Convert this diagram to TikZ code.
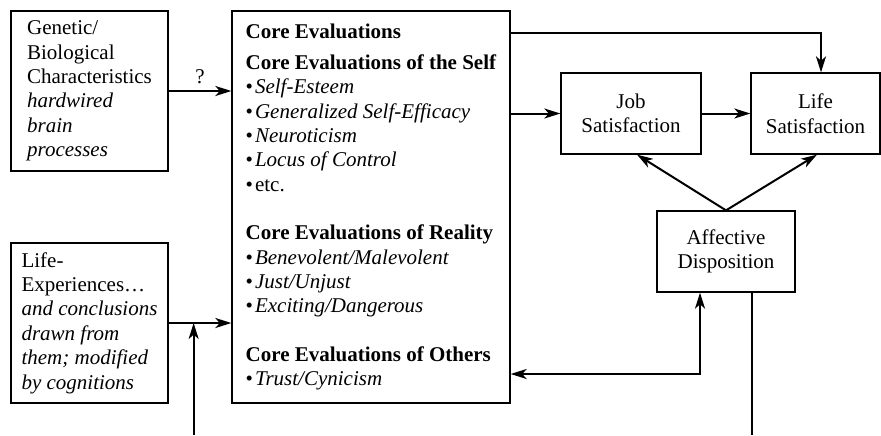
\documentclass[tikz,border=0pt]{standalone}
\usepackage{fontspec}
\setmainfont{Liberation Serif}
\usetikzlibrary{arrows.meta,positioning}

\tikzset{
  evalbox/.style={draw, line width=0.65pt, inner sep=0pt, align=left,
    font=\fontsize{10.5pt}{12.2pt}\selectfont},
  flow/.style={line width=1pt, -{Stealth[length=8pt,width=5pt,inset=2.2pt]}},
  flowboth/.style={line width=1pt, {Stealth[length=8pt,width=5pt,inset=2.2pt]}-{Stealth[length=8pt,width=5pt,inset=2.2pt]}}
}
\newcommand{\itembul}[1]{\textbullet\hspace{1pt}\textit{#1}}

\begin{document}
\begin{tikzpicture}[on grid]
    \useasboundingbox (0,0) rectangle (440.5pt,-217.5pt);
    \coordinate (floor) at (0,-217.5pt);

    \node[evalbox, minimum width=139pt, minimum height=196pt] (core) at (185.5pt,-103.5pt)
      {\textbf{Core Evaluations}\\[3.3pt]
       \textbf{Core Evaluations of the Self}\\
       \itembul{Self-Esteem}\\
       \itembul{Generalized Self-Efficacy}\\
       \itembul{Neuroticism}\\
       \itembul{Locus of Control}\\
       \textbullet\hspace{1pt}etc.\\[12pt]
       \textbf{Core Evaluations of Reality}\\
       \itembul{Benevolent/Malevolent}\\
       \itembul{Just/Unjust}\\
       \itembul{Exciting/Dangerous}\\[12pt]
       \textbf{Core Evaluations of Others}\\
       \itembul{Trust/Cynicism}};
    \node[evalbox, minimum width=78.5pt, minimum height=80pt] (gen) [above left=58pt and 140.75pt of core]
      {Genetic/\\Biological\\Characteristics\\\textit{hardwired}\\\textit{brain}\\\textit{processes}};
    \node[evalbox, minimum width=78.5pt, minimum height=80pt] (exper) [below=116pt of gen]
      {Life-\\Experiences…\\\textit{and conclusions}\\\textit{drawn from}\\\textit{them; modified}\\\textit{by cognitions}};
    \node[evalbox, align=center, minimum width=70pt, minimum height=40.5pt] (job) [above right=46.75pt and 130pt of core]
      {Job\\Satisfaction};
    \node[evalbox, align=center, minimum width=64.5pt, minimum height=40.5pt] (lifesat) [right=92.25pt of job]
      {Life\\Satisfaction};
    \node[evalbox, align=center, minimum width=69pt, minimum height=40.5pt] (aff) [below right=69pt and 47.5pt of job]
      {Affective\\Disposition};

    \coordinate (fbturn) at ([xshift=12.5pt]exper.east);
    \coordinate (topout) at ([yshift=-11.5pt]core.north east);
    \coordinate (othersin) at ([yshift=-83.5pt]core.east);
    \coordinate (affin) at ([xshift=-13pt]aff.south);
    \coordinate (affout) at ([xshift=13pt]aff.south);

    \draw[flow] (gen.east) -- node[above, font=\fontsize{10.5pt}{12.2pt}\selectfont] {?} (gen.east -| core.west);
    \draw[flow] (exper.east) -- (exper.east -| core.west);
    \draw[flow] (fbturn |- floor) -- (fbturn);
    \draw[flow] (topout) -| ([xshift=2.75pt]lifesat.north);
    \draw[flow] (core.east |- job.west) -- (job.west);
    \draw[flow] (job.east) -- (lifesat.west);
    \draw[flow] (aff.north) -- ([xshift=3pt]job.south);
    \draw[flow] (aff.north) -- ([xshift=0.75pt]lifesat.south);
    \draw[flowboth] (othersin) -| (affin);
    \draw[line width=1pt] (affout) -- (affout |- floor);

\end{tikzpicture}
\end{document}
